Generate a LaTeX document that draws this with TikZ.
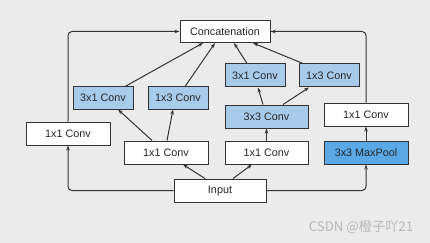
\documentclass[tikz,border=0pt]{standalone}
\usepackage{fontspec}
\setmainfont{Liberation Sans}
\newfontfamily\cjk{Noto Sans CJK SC}
\usetikzlibrary{arrows.meta,calc}
\definecolor{bgc}{HTML}{EBEBEB}
\definecolor{lblue}{HTML}{A9CBEB}
\definecolor{dblue}{HTML}{5AA9E6}
\definecolor{edge}{HTML}{333333}
\tikzset{
  box/.style={draw=edge, line width=1pt, fill=white, inner sep=0pt, minimum height=23pt, font=\fontsize{10.8}{12}\selectfont, text=black!85},
  bluebox/.style={box, fill=lblue},
  poolbox/.style={box, fill=dblue},
  conn/.style={draw=edge, line width=1pt, -{Stealth[length=5pt,width=3.5pt]}},
}
\begin{document}
\begin{tikzpicture}[x=1pt,y=-1pt]
\fill[bgc] (0,0) rectangle (430,243);
\useasboundingbox (0,0) rectangle (430,243);
\node[box, minimum width=90pt, minimum height=22pt] (concat) at (225,31.5) {Concatenation};
\node[bluebox, minimum width=60pt, minimum height=22pt] (c31L) at (103,98) {3x1 Conv};
\node[bluebox, minimum width=60pt, minimum height=22pt] (c13L) at (178,98) {1x3 Conv};
\node[bluebox, minimum width=60pt] (c31R) at (255,75.5) {3x1 Conv};
\node[bluebox, minimum width=60pt] (c13R) at (329,75.5) {1x3 Conv};
\node[bluebox, minimum width=83pt] (c33) at (266.5,116.5) {3x3 Conv};
\node[box, minimum width=84pt] (c11R) at (366,114.5) {1x1 Conv};
\node[poolbox, minimum width=84pt] (pool) at (366,152.5) {3x3 MaxPool};
\node[box, minimum width=84pt] (c11a) at (68,133.5) {1x1 Conv};
\node[box, minimum width=84pt] (c11b) at (166,152.5) {1x1 Conv};
\node[box, minimum width=83pt] (c11c) at (266.5,152.5) {1x1 Conv};
\node[box, minimum width=92pt] (input) at (220,190.5) {Input};
\node[text=black!28, font=\cjk\fontsize{13.2}{15}\selectfont] (wm) at (361,227) {CSDN @橙子吖21};

% side branches
\draw[conn, rounded corners=4pt] (input.west) -| (c11a.south);
\draw[conn, rounded corners=4pt] (c11a.north) |- (concat.west);
\draw[conn, rounded corners=4pt] (input.east) -| (pool.south);
\draw[conn] (pool.north) -- (c11R.south);
\draw[conn, rounded corners=4pt] (c11R.north) |- (concat.east);

% input to middle 1x1 convs
\draw[conn] ($(input.north)+(-15,0)$) -- ($(c11b.south)+(17,0)$);
\draw[conn] ($(input.north)+(13,0)$) -- ($(c11c.south)+(-14.5,0)$);

% left middle branch
\draw[conn] ($(c11b.north)+(-14,0)$) -- ($(c31L.south)+(15,0)$);
\draw[conn] ($(c11b.north)+(1,0)$) -- ($(c13L.south)+(-5,0)$);
\draw[conn] ($(c31L.north)+(22,0)$) -- ($(concat.south)+(-22,0)$);
\draw[conn] ($(c13L.north)+(7,0)$) -- ($(concat.south)+(-10,0)$);

% right middle branch
\draw[conn] (c11c.north) -- (c33.south);
\draw[conn] ($(c33.north)+(-3.5,0)$) -- ($(c31R.south)+(3,0)$);
\draw[conn] ($(c33.north)+(16.5,0)$) -- ($(c13R.south)+(-20,0)$);
\draw[conn] ($(c31R.north)+(-8,0)$) -- ($(concat.south)+(9,0)$);
\draw[conn] ($(c13R.north)+(-26,0)$) -- ($(concat.south)+(28,0)$);
\end{tikzpicture}
\end{document}
